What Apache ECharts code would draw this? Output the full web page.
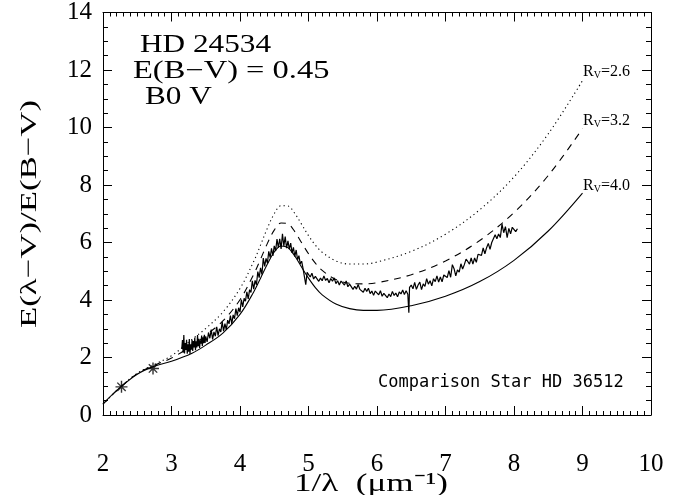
<!DOCTYPE html>
<html>
<head>
<meta charset="utf-8">
<script src="https://cdn.jsdelivr.net/npm/echarts@6/dist/echarts.min.js"></script>
<style>
html,body{margin:0;padding:0;background:#fff;}
#main{width:684px;height:495px;}
</style>
</head>
<body>
<div id="main"></div>
<script>
// ---- data ----
var curveX = [2.0, 2.25, 2.5, 2.75, 3.0, 3.3, 3.5, 3.75, 4.0, 4.2, 4.3, 4.4, 4.5, 4.6, 4.7, 4.8, 4.9, 5.0, 5.1, 5.2, 5.4, 5.6, 5.8, 6.0, 6.5, 7.0, 7.5, 8.0, 8.5, 9.0];
var rv40 = [0.39, 0.96, 1.42, 1.70, 1.87, 2.15, 2.43, 2.85, 3.50, 4.28, 4.76, 5.25, 5.67, 5.88, 5.82, 5.53, 5.14, 4.76, 4.43, 4.18, 3.86, 3.70, 3.64, 3.64, 3.80, 4.13, 4.64, 5.38, 6.40, 7.72];
var rv32 = [0.38, 0.96, 1.44, 1.73, 1.98, 2.42, 2.77, 3.27, 4.01, 4.89, 5.42, 5.97, 6.43, 6.68, 6.65, 6.38, 5.99, 5.61, 5.28, 5.03, 4.71, 4.58, 4.56, 4.60, 4.88, 5.36, 6.07, 7.04, 8.33, 9.96];
var rv26 = [0.37, 0.96, 1.45, 1.76, 2.06, 2.63, 3.01, 3.58, 4.40, 5.34, 5.91, 6.50, 7.00, 7.28, 7.27, 7.01, 6.63, 6.24, 5.91, 5.66, 5.36, 5.25, 5.25, 5.32, 5.69, 6.29, 7.14, 8.28, 9.78, 11.63];
var photometry = [[2.27, 0.98], [2.73, 1.62]];
var spectrum = [
[3.15,2.30],[3.16,2.61],[3.17,2.17],[3.18,2.78],[3.19,2.14],[3.20,2.50],[3.21,2.26],[3.22,2.62],
[3.23,2.13],[3.24,2.46],[3.25,2.20],[3.26,2.64],[3.27,2.12],[3.28,2.46],[3.29,2.27],[3.30,2.62],
[3.31,2.23],[3.32,2.57],[3.33,2.35],[3.34,2.69],[3.35,2.25],[3.36,2.56],[3.37,2.35],[3.38,2.78],
[3.39,2.39],[3.40,2.65],[3.41,2.33],[3.42,2.60],[3.43,2.48],[3.44,2.76],[3.45,2.40],[3.46,2.68],
[3.47,2.50],[3.48,2.79],[3.49,2.51],
[3.50,2.73],[3.52,2.54],[3.54,2.87],[3.56,2.67],[3.58,2.97],[3.60,2.63],[3.62,2.89],[3.64,2.74],
[3.66,3.07],[3.68,2.76],[3.70,3.00],[3.72,2.89],[3.74,3.24],[3.76,2.92],[3.78,3.18],[3.80,2.96],
[3.82,3.30],[3.84,3.17],[3.86,3.46],[3.88,3.17],[3.90,3.48],[3.92,3.35],[3.94,3.70],[3.96,3.46],
[3.98,3.73],[4.00,3.58],[4.02,4.01],[4.04,3.76],[4.06,4.06],[4.08,3.96],[4.10,4.28],[4.12,4.04],
[4.14,4.36],[4.16,4.26],[4.18,4.67],[4.20,4.38],[4.22,4.68],[4.24,4.53],[4.26,4.99],[4.28,4.78],
[4.30,5.12],[4.32,4.89],[4.34,5.46],[4.36,5.17],[4.38,5.45],[4.40,5.28],[4.42,5.69],[4.44,5.47],
[4.46,5.80],[4.48,5.53],[4.50,5.88],[4.52,5.71],[4.54,6.12],[4.56,5.82],[4.58,6.13],[4.60,5.78],
[4.62,6.30],[4.64,5.88],[4.66,6.21],[4.68,5.80],[4.70,6.06],[4.72,5.77],[4.74,5.98],[4.76,5.64],
[4.78,5.83],[4.80,5.51],[4.82,5.74],[4.84,5.40],[4.86,5.54],[4.88,5.26],[4.90,5.35],[4.92,5.10],
[4.94,5.11],[4.96,4.53],[4.98,4.96],
[5.000,4.94],[5.025,4.80],[5.050,4.93],[5.075,4.73],[5.100,4.82],[5.125,4.86],[5.150,4.65],[5.175,4.76],
[5.200,4.67],[5.225,4.84],[5.250,4.68],[5.275,4.75],[5.300,4.60],[5.325,4.75],[5.350,4.65],[5.375,4.77],
[5.400,4.57],[5.425,4.67],[5.450,4.52],[5.475,4.66],[5.500,4.65],[5.525,4.52],[5.550,4.66],[5.575,4.46],
[5.600,4.55],[5.625,4.59],[5.650,4.37],[5.675,4.48],[5.700,4.38],[5.725,4.54],[5.750,4.37],[5.775,4.43],
[5.800,4.27],[5.825,4.41],[5.850,4.30],[5.875,4.41],[5.900,4.22],[5.925,4.31],[5.950,4.16],[5.975,4.31],
[6.000,4.30],[6.025,4.18],[6.050,4.32],[6.075,4.13],[6.100,4.23],[6.125,4.29],[6.150,4.08],[6.175,4.21],
[6.200,4.12],[6.225,4.30],[6.250,4.16],[6.275,4.24],[6.300,4.11],[6.325,4.28],[6.350,4.21],[6.375,4.35],
[6.400,4.19],[6.425,4.32],[6.450,4.20],[6.465,3.56],[6.475,4.44],
[6.500,4.52],[6.525,4.39],[6.550,4.61],[6.575,4.37],[6.600,4.52],[6.625,4.62],[6.650,4.36],[6.675,4.56],
[6.700,4.47],[6.725,4.74],[6.750,4.55],[6.775,4.67],[6.800,4.49],[6.825,4.74],[6.850,4.64],[6.875,4.84],
[6.900,4.62],[6.925,4.80],[6.950,4.63],[6.975,4.87],[7.000,4.90],[7.025,4.78],[7.050,5.02],[7.075,4.79],
[7.100,5.23],[7.125,5.09],[7.150,4.84],[7.175,5.05],[7.200,4.97],[7.225,5.26],[7.250,5.08],[7.275,5.23],
[7.300,5.42],[7.325,5.34],[7.350,5.25],[7.375,5.46],[7.400,5.25],[7.425,5.46],[7.450,5.31],[7.475,5.59],
[7.500,5.64],[7.525,5.55],[7.550,5.81],[7.575,5.61],[7.600,5.82],[7.625,5.97],[7.650,5.76],[7.675,6.00],
[7.700,5.96],[7.725,6.27],[7.750,6.13],[7.775,6.30],[7.800,6.17],[7.825,6.64],[7.850,6.34],[7.875,6.55],
[7.900,6.17],[7.925,6.49],[7.950,6.30],[7.975,6.53],[8.000,6.53],[8.025,6.38],[8.050,6.48]
];
var xTicks = [2, 3, 4, 5, 6, 7, 8, 9, 10];
var yTicks = [0, 2, 4, 6, 8, 10, 12, 14];

function pairs(xs, ys) { return xs.map(function (x, i) { return [x, ys[i]]; }); }

var SERIF = '"Liberation Serif", "Times New Roman", serif';
var chart = echarts.init(document.getElementById('main'), null, {renderer: 'canvas'});

function xAx(pos, showLabel) {
  return {
    type: 'value', position: pos, min: xTicks[0], max: xTicks[xTicks.length - 1], interval: 1,
    axisLine: {show: true, onZero: false, lineStyle: {color: '#000', width: 1}},
    axisTick: {show: true, inside: true, length: 9, lineStyle: {color: '#000'}},
    minorTick: {show: true, splitNumber: 10, length: 4, lineStyle: {color: '#000'}},
    splitLine: {show: false},
    axisLabel: {show: showLabel, margin: 37, color: '#000', fontFamily: SERIF, fontSize: 25}
  };
}
function yAx(pos, showLabel) {
  return {
    type: 'value', position: pos, min: yTicks[0], max: yTicks[yTicks.length - 1], interval: 2,
    axisLine: {show: true, onZero: false, lineStyle: {color: '#000', width: 1}},
    axisTick: {show: true, inside: true, length: 9, lineStyle: {color: '#000'}},
    minorTick: {show: true, splitNumber: 4, length: 5, lineStyle: {color: '#000'}},
    splitLine: {show: false},
    axisLabel: {show: showLabel, margin: 11, color: '#000', fontFamily: SERIF, fontSize: 25}
  };
}

var star = 'path://M0,-5L0,5M-5,0L5,0M-3.5,-3.5L3.5,3.5M-3.5,3.5L3.5,-3.5';

function rvLabel(y, txt) {
  return {type: 'text', x: 583, y: y,
    style: {text: '{r|R}{v|V}{r|=' + txt + '}', fill: '#000', textAlign: 'left', textVerticalAlign: 'middle',
      rich: {r: {fontFamily: SERIF, fontSize: 16, fill: '#000'},
             v: {fontFamily: SERIF, fontSize: 10, fill: '#000', padding: [7, 0, 0, 0]}}}};
}

var option = {
  backgroundColor: '#fff',
  animation: false,
  grid: {left: 103, right: 33, top: 9, bottom: 80},
  xAxis: [xAx('bottom', true), xAx('top', false)],
  yAxis: [yAx('left', true), yAx('right', false)],
  series: [
    {type: 'line', data: pairs(curveX, rv40), smooth: 0.35, showSymbol: false, symbol: 'none',
     lineStyle: {color: '#000', width: 1.1, type: 'solid'}},
    {type: 'line', data: pairs(curveX, rv32), smooth: 0.35, showSymbol: false, symbol: 'none',
     lineStyle: {color: '#000', width: 1.1, type: [7, 6]}},
    {type: 'line', data: pairs(curveX, rv26), smooth: 0.35, showSymbol: false, symbol: 'none',
     lineStyle: {color: '#000', width: 1.1, type: [1.2, 3.2]}},
    {type: 'line', data: spectrum, showSymbol: false, symbol: 'none',
     lineStyle: {color: '#000', width: 1.2}},
    {type: 'scatter', data: photometry, symbol: star, symbolSize: 12,
     itemStyle: {color: 'none', borderColor: '#000', borderWidth: 1.4}}
  ],
  graphic: [
    {type: 'text', x: 30, y: 214, rotation: Math.PI / 2, scaleX: 1.45,
     style: {text: 'E(λ\u2212V)/E(B\u2212V)', font: '24px ' + SERIF, fill: '#000', textAlign: 'center', textVerticalAlign: 'middle'}},
    {type: 'text', x: 371, y: 484, scaleX: 1.35,
     style: {text: '1/λ  (μm\u207B\u00B9)', font: '26px ' + SERIF, fill: '#000', textAlign: 'center', textVerticalAlign: 'middle'}},
    {type: 'text', x: 140, y: 45, scaleX: 1.25,
     style: {text: 'HD 24534', font: '25px ' + SERIF, fill: '#000', textAlign: 'left', textVerticalAlign: 'middle'}},
    {type: 'text', x: 133, y: 71, scaleX: 1.3,
     style: {text: 'E(B\u2212V) = 0.45', font: '25px ' + SERIF, fill: '#000', textAlign: 'left', textVerticalAlign: 'middle'}},
    {type: 'text', x: 145, y: 97, scaleX: 1.25,
     style: {text: 'B0 V', font: '25px ' + SERIF, fill: '#000', textAlign: 'left', textVerticalAlign: 'middle'}},
    rvLabel(72, '2.6'),
    rvLabel(121, '3.2'),
    rvLabel(186, '4.0'),
    {type: 'text', x: 378, y: 383,
     style: {text: 'Comparison Star HD 36512', font: '17px "DejaVu Sans Mono", monospace', fill: '#000', textAlign: 'left', textVerticalAlign: 'middle'}}
  ]
};
chart.setOption(option);
</script>
</body>
</html>
